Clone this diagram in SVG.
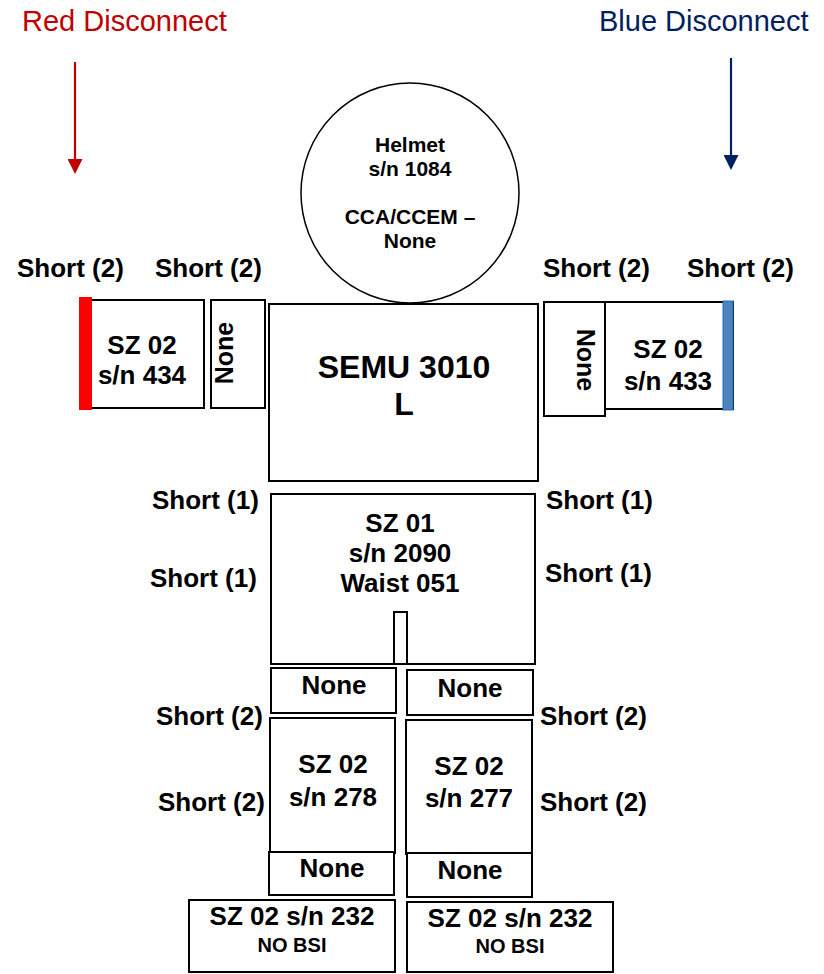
<svg xmlns="http://www.w3.org/2000/svg" width="824" height="974" viewBox="0 0 824 974">
<style>
.box{fill:#fff;stroke:#000;stroke-width:2}
.t{font-family:"Liberation Sans",Arial,sans-serif;font-weight:bold;font-size:26px;fill:#000;text-anchor:middle}
.s{font-family:"Liberation Sans",Arial,sans-serif;font-weight:bold;font-size:26px;fill:#000}
.h{font-size:21px}
.nb{font-size:20px}
.big{font-size:32px}
.lab{font-family:"Liberation Sans",Arial,sans-serif;font-size:29px}
</style>
<defs>
<marker id="ar" viewBox="0 0 15 15" markerWidth="15" markerHeight="15" refX="0" refY="7.5" orient="auto" markerUnits="userSpaceOnUse"><path d="M0,0 L15,7.5 L0,15 z" fill="#c00000"/></marker>
<marker id="ab" viewBox="0 0 15 15" markerWidth="15" markerHeight="15" refX="0" refY="7.5" orient="auto" markerUnits="userSpaceOnUse"><path d="M0,0 L15,7.5 L0,15 z" fill="#002060"/></marker>
</defs>
<rect width="824" height="974" fill="#fff"/>
<text class="lab" x="22" y="31" fill="#c00000">Red Disconnect</text>
<text class="lab" x="599" y="31" fill="#002060">Blue Disconnect</text>
<g id="connectors">
<line x1="75" y1="62" x2="75" y2="159" stroke="#c00000" stroke-width="2.2" marker-end="url(#ar)"/>
<line x1="731" y1="58" x2="731" y2="155" stroke="#002060" stroke-width="2.2" marker-end="url(#ab)"/>
</g>
<g id="helmet">
<ellipse cx="410" cy="193" rx="109" ry="110" fill="#fff" stroke="#000" stroke-width="1.5"/>
<text class="t h" x="410" y="152">Helmet</text>
<text class="t h" x="410" y="176">s/n 1084</text>
<text class="t h" x="410" y="224">CCA/CCEM –</text>
<text class="t h" x="410" y="248">None</text>
</g>
<g id="short-labels">
<text class="s" x="17" y="277">Short (2)</text>
<text class="s" x="155" y="277">Short (2)</text>
<text class="s" x="543" y="277">Short (2)</text>
<text class="s" x="687" y="277">Short (2)</text>
<text class="s" x="152" y="509">Short (1)</text>
<text class="s" x="150" y="587">Short (1)</text>
<text class="s" x="546" y="509">Short (1)</text>
<text class="s" x="545" y="582">Short (1)</text>
<text class="s" x="156" y="725">Short (2)</text>
<text class="s" x="158" y="811">Short (2)</text>
<text class="s" x="540" y="725">Short (2)</text>
<text class="s" x="540" y="811">Short (2)</text>
</g>
<g id="left-arm">
<rect class="box" x="80" y="300" width="124" height="108"/>
<rect x="79" y="297" width="13" height="113" fill="#ff0000"/>
<text class="t" x="142" y="354">SZ 02</text>
<text class="t" x="142" y="384">s/n 434</text>
</g>
<g id="left-arm-none">
<rect class="box" x="211" y="300" width="54" height="108"/>
<text class="t" transform="translate(233,353) rotate(-90)" style="font-size:25px">None</text>
</g>
<g id="semu">
<rect class="box" x="269" y="304" width="269" height="177"/>
<text class="t big" x="404" y="378">SEMU 3010</text>
<text class="t big" x="404" y="415">L</text>
</g>
<g id="right-arm-none">
<rect class="box" x="544" y="302" width="61" height="114"/>
<text class="t" transform="translate(577,360) rotate(90)" style="font-size:25px">None</text>
</g>
<g id="right-arm">
<rect class="box" x="605" y="302" width="128" height="107"/>
<rect x="723" y="301" width="10" height="109" fill="#4f81bd" stroke="#1e6ec8" stroke-width="1"/>
<text class="t" x="668" y="358">SZ 02</text>
<text class="t" x="668" y="390">s/n 433</text>
</g>
<g id="waist">
<rect class="box" x="271" y="494" width="264" height="170"/>
<rect class="box" x="394" y="612" width="13" height="52"/>
<text class="t" x="400" y="532">SZ 01</text>
<text class="t" x="400" y="562">s/n 2090</text>
<text class="t" x="400" y="592">Waist 051</text>
</g>
<g id="left-thigh-none">
<rect class="box" x="271" y="668" width="125" height="45"/>
<text class="t" x="334" y="694">None</text>
</g>
<g id="right-thigh-none">
<rect class="box" x="407" y="670" width="126" height="45"/>
<text class="t" x="470" y="697">None</text>
</g>
<g id="left-leg">
<rect class="box" x="270" y="718" width="125" height="135"/>
<text class="t" x="333" y="773">SZ 02</text>
<text class="t" x="333" y="806">s/n 278</text>
</g>
<g id="right-leg">
<rect class="box" x="406" y="720" width="126" height="134"/>
<text class="t" x="469" y="775">SZ 02</text>
<text class="t" x="469" y="807">s/n 277</text>
</g>
<g id="left-ankle-none">
<rect class="box" x="269" y="852" width="125" height="43"/>
<text class="t" x="332" y="877">None</text>
</g>
<g id="right-ankle-none">
<rect class="box" x="407" y="853" width="125" height="44"/>
<text class="t" x="470" y="879">None</text>
</g>
<g id="left-boot">
<rect class="box" x="189" y="900" width="206" height="72"/>
<text class="t" x="292" y="925">SZ 02 s/n 232</text>
<text class="t nb" x="292" y="952">NO BSI</text>
</g>
<g id="right-boot">
<rect class="box" x="407" y="902" width="206" height="70"/>
<text class="t" x="510" y="927">SZ 02 s/n 232</text>
<text class="t nb" x="510" y="953">NO BSI</text>
</g>
</svg>
